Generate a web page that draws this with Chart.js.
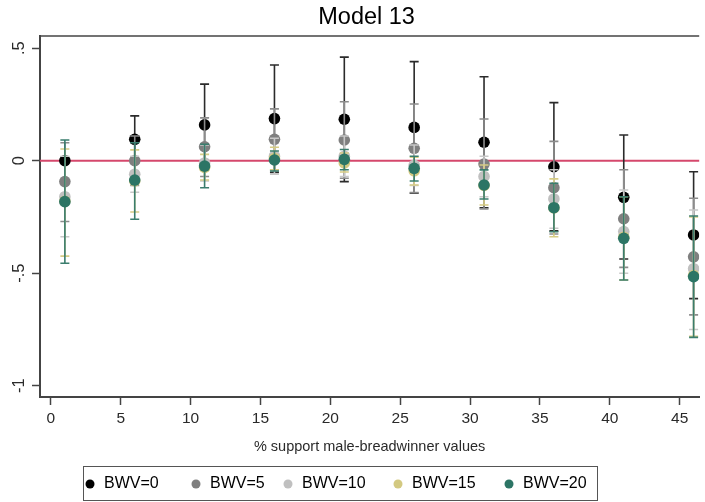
<!DOCTYPE html>
<html>
<head>
<meta charset="utf-8">
<script src="https://cdn.jsdelivr.net/npm/chart.js@4.4.1/dist/chart.umd.min.js"></script>
<style>
  html, body { margin: 0; padding: 0; background: #fff; }
  #wrap { width: 705px; height: 502px; }
</style>
</head>
<body>
<div id="wrap"><canvas id="chart" width="705" height="502"></canvas></div>
<script>
// Model 13 — coefficient plot with 95% CIs by BWV level

const xPositions = [1, 6, 11, 16, 21, 26, 31, 36, 41, 46];
const xTicks = [0, 5, 10, 15, 20, 25, 30, 35, 40, 45];
const yTicks = [-1, -0.5, 0, 0.5];
const yTickLabels = ['-1', '-.5', '0', '.5'];

const seriesNames = ['BWV=0', 'BWV=5', 'BWV=10', 'BWV=15', 'BWV=20'];

const bwv0 = [0, 0.095, 0.159, 0.187, 0.184, 0.148, 0.082, -0.027, -0.163, -0.33];
const bwv0Lo = [0, -0.01, -0.02, -0.052, -0.093, -0.145, -0.209, -0.312, -0.437, -0.613];
const bwv0Hi = [0, 0.199, 0.34, 0.425, 0.46, 0.44, 0.373, 0.258, 0.114, -0.049];

const bwv5 = [-0.093, 0.0, 0.062, 0.095, 0.092, 0.055, -0.015, -0.12, -0.258, -0.427];
const bwv5Lo = [-0.27, -0.11, -0.07, -0.04, -0.078, -0.142, -0.215, -0.326, -0.474, -0.685];
const bwv5Hi = [0.08, 0.11, 0.19, 0.23, 0.262, 0.252, 0.185, 0.086, -0.04, -0.167];

const bwv10 = [-0.16, -0.06, -0.01, 0.02, 0.02, -0.02, -0.07, -0.17, -0.315, -0.48];
const bwv10Lo = [-0.338, -0.14, -0.09, -0.06, -0.07, -0.11, -0.16, -0.30, -0.50, -0.75];
const bwv10Hi = [0.02, 0.02, 0.07, 0.10, 0.11, 0.07, 0.02, -0.04, -0.13, -0.219];

const bwv15 = [-0.18, -0.09, -0.03, 0.01, -0.01, -0.045, -0.11, -0.21, -0.34, -0.51];
const bwv15Lo = [-0.424, -0.228, -0.086, -0.04, -0.05, -0.108, -0.197, -0.338, -0.53, -0.78];
const bwv15Hi = [0.052, 0.048, 0.028, 0.06, 0.034, 0.015, -0.019, -0.081, -0.16, -0.25];

const bwv20 = [-0.182, -0.086, -0.024, 0.003, 0.006, -0.034, -0.108, -0.209, -0.345, -0.515];
const bwv20Lo = [-0.456, -0.26, -0.12, -0.046, -0.04, -0.09, -0.17, -0.316, -0.53, -0.785];
const bwv20Hi = [0.092, 0.08, 0.073, 0.043, 0.05, 0.02, -0.041, -0.1, -0.16, -0.246];

const pointColors = ['#000000', '#7f7f7f', '#c0c0c0', '#d3c981', '#2c7565'];
const barColors = ['#2b2b2b', '#8c8c8c', '#c8c8c8', '#d6cc85', '#3a7d6d'];

const FONT = "'Liberation Sans', Arial, sans-serif";
const AXIS_COLOR = '#444444';
const TEXT_COLOR = '#2a2a2a';

const values = [bwv0, bwv5, bwv10, bwv15, bwv20];
const lows = [bwv0Lo, bwv5Lo, bwv10Lo, bwv15Lo, bwv20Lo];
const highs = [bwv0Hi, bwv5Hi, bwv10Hi, bwv15Hi, bwv20Hi];

const datasets = seriesNames.map((name, s) => ({
  label: name,
  data: xPositions.map((x, i) => ({ x: x, y: values[s][i] })),
  errLo: lows[s],
  errHi: highs[s],
  barColor: barColors[s],
  backgroundColor: pointColors[s],
  borderWidth: 0,
  pointRadius: 5.8,
  pointHoverRadius: 5.8,
  order: seriesNames.length - s, // later series drawn on top
}));

// Zero reference line, plot top border
const framePlugin = {
  id: 'frame',
  beforeDatasetsDraw(chart) {
    const { ctx, chartArea, scales } = chart;
    const y0 = scales.y.getPixelForValue(0);
    ctx.save();
    ctx.strokeStyle = '#d5486c';
    ctx.lineWidth = 2;
    ctx.beginPath();
    ctx.moveTo(chartArea.left, y0);
    ctx.lineTo(chartArea.right, y0);
    ctx.stroke();
    ctx.restore();
  },
  afterDraw(chart) {
    const { ctx, chartArea } = chart;
    ctx.save();
    ctx.strokeStyle = AXIS_COLOR;
    ctx.lineWidth = 1.5;
    ctx.beginPath();
    ctx.moveTo(chartArea.left, chartArea.top);
    ctx.lineTo(chartArea.right, chartArea.top);
    ctx.stroke();
    ctx.restore();
  },
};

// Capped CI bars, drawn just before each dataset's points
const errorBarPlugin = {
  id: 'errorBars',
  beforeDatasetDraw(chart, args) {
    const ds = chart.data.datasets[args.index];
    const { ctx, scales } = chart;
    const cap = 4.5;
    ctx.save();
    ctx.strokeStyle = ds.barColor;
    ctx.lineWidth = 1.6;
    ds.data.forEach((p, i) => {
      const lo = ds.errLo[i];
      const hi = ds.errHi[i];
      if (lo === hi) return;
      const x = scales.x.getPixelForValue(p.x);
      const yl = scales.y.getPixelForValue(lo);
      const yh = scales.y.getPixelForValue(hi);
      ctx.beginPath();
      ctx.moveTo(x, yl);
      ctx.lineTo(x, yh);
      ctx.moveTo(x - cap, yl);
      ctx.lineTo(x + cap, yl);
      ctx.moveTo(x - cap, yh);
      ctx.lineTo(x + cap, yh);
      ctx.stroke();
    });
    ctx.restore();
  },
};

// Title, x-axis title and boxed legend
const LEGEND_DOT_X = [90, 196, 288, 398, 509];
const textPlugin = {
  id: 'texts',
  afterDraw(chart) {
    const { ctx, chartArea } = chart;
    const cx = (chartArea.left + chartArea.right) / 2;
    ctx.save();
    ctx.fillStyle = '#000';
    ctx.textAlign = 'center';
    ctx.textBaseline = 'middle';
    ctx.font = '23.5px ' + FONT;
    ctx.fillText('Model 13', cx - 3, 18);

    ctx.fillStyle = TEXT_COLOR;
    ctx.font = '14.5px ' + FONT;
    ctx.fillText('% support male-breadwinner values', cx, 447);

    // legend box
    ctx.strokeStyle = '#555';
    ctx.lineWidth = 1;
    ctx.strokeRect(83.5, 466.5, 514, 34);
    ctx.font = '16px ' + FONT;
    ctx.textAlign = 'left';
    chart.data.datasets.forEach((ds, i) => {
      const x = LEGEND_DOT_X[i];
      ctx.fillStyle = ds.backgroundColor;
      ctx.beginPath();
      ctx.arc(x, 484, 4.5, 0, Math.PI * 2);
      ctx.fill();
      ctx.fillStyle = '#000';
      ctx.fillText(ds.label, x + 14, 484);
    });
    ctx.restore();
  },
};

new Chart(document.getElementById('chart'), {
  type: 'scatter',
  data: { datasets: datasets },
  options: {
    responsive: false,
    animation: false,
    devicePixelRatio: 1,
    layout: { padding: { top: 36, left: 0, right: 0, bottom: 0 } },
    plugins: {
      legend: { display: false },
      title: { display: false },
      tooltip: { enabled: false },
    },
    scales: {
      x: {
        type: 'linear',
        min: -0.78,
        max: 46.4,
        afterBuildTicks: (scale) => { scale.ticks = xTicks.map((v) => ({ value: v })); },
        afterFit: (scale) => { scale.height = 105; },
        grid: { display: true, drawOnChartArea: false, drawTicks: true, tickLength: 8, color: AXIS_COLOR, tickWidth: 1.5 },
        border: { display: true, color: AXIS_COLOR, width: 2 },
        ticks: {
          color: TEXT_COLOR,
          font: { family: FONT, size: 15.5 },
          padding: 4,
          maxRotation: 0,
          callback: (v) => String(v),
        },
      },
      y: {
        type: 'linear',
        min: -1.05,
        max: 0.554,
        afterBuildTicks: (scale) => { scale.ticks = yTicks.map((v) => ({ value: v })); },
        afterFit: (scale) => { scale.width = 40; },
        grid: { display: true, drawOnChartArea: false, drawTicks: true, tickLength: 8, color: AXIS_COLOR, tickWidth: 1.5 },
        border: { display: true, color: AXIS_COLOR, width: 2 },
        ticks: {
          color: TEXT_COLOR,
          font: { family: FONT, size: 16.5 },
          padding: 3,
          minRotation: 90,
          maxRotation: 90,
          crossAlign: 'center',
          callback: (v) => yTickLabels[yTicks.indexOf(v)],
        },
      },
    },
  },
  plugins: [framePlugin, errorBarPlugin, textPlugin],
});
</script>
</body>
</html>
